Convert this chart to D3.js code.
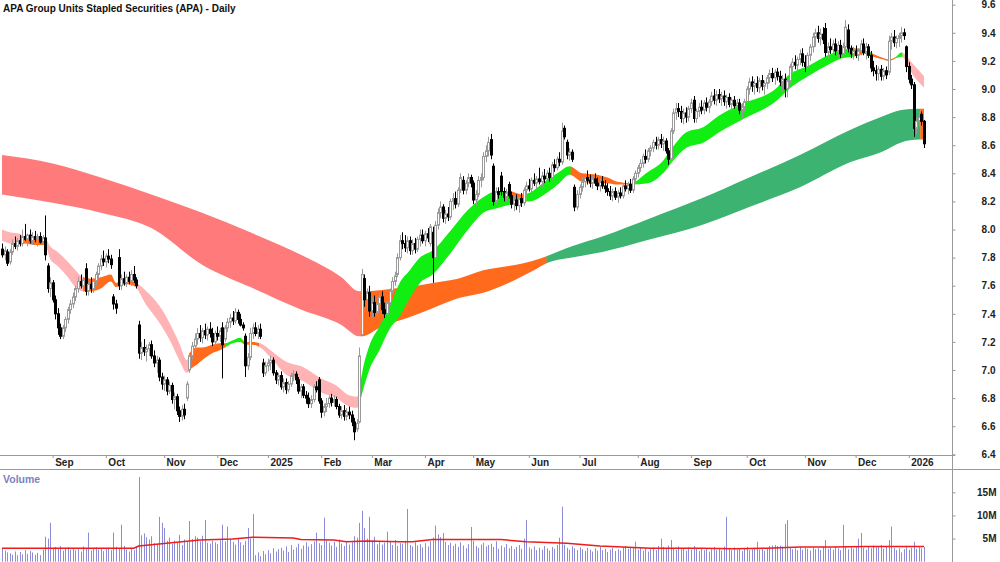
<!DOCTYPE html>
<html><head><meta charset="utf-8">
<script src="https://cdn.jsdelivr.net/npm/d3@7"></script>
<style>body{margin:0;background:#fff}svg{display:block}</style>
</head><body><svg id="c" width="1000" height="562"></svg>
<script>
const TITLE = "APA Group Units Stapled Securities (APA) - Daily";
const START = "2024-08-05";
const holidays = ["2024-12-25","2024-12-26","2025-01-01","2025-01-27","2025-04-18","2025-04-21","2025-04-25","2025-06-09","2025-12-25","2025-12-26","2026-01-01"];
const monthNames = ["Jan","Feb","Mar","Apr","May","Jun","Jul","Aug","Sep","Oct","Nov","Dec"];

const opens = [7.86,7.82,7.84,7.77,7.84,7.90,7.88,7.92,7.90,7.95,
7.93,7.96,7.92,7.95,7.93,7.95,7.91,7.94,7.74,7.58,
7.62,7.50,7.40,7.30,7.24,7.30,7.36,7.43,7.47,7.52,
7.58,7.63,7.60,7.72,7.56,7.61,7.58,7.63,7.68,7.74,
7.79,7.77,7.81,7.79,7.52,7.47,7.80,7.60,7.65,7.62,
7.66,7.63,7.68,7.64,7.32,7.12,7.16,7.13,7.15,7.18,
7.10,7.05,7.07,6.95,6.90,6.93,6.85,6.89,6.79,6.81,
6.71,6.67,6.72,6.80,7.00,7.10,7.17,7.22,7.26,7.23,
7.28,7.25,7.29,7.26,7.20,7.26,7.24,7.30,7.22,7.30,
7.34,7.37,7.35,7.41,7.36,7.32,7.24,7.03,7.09,7.26,
7.30,7.26,7.29,7.05,6.98,7.03,7.05,7.07,6.98,6.93,
6.96,6.88,6.91,6.86,6.90,6.96,6.97,6.93,6.85,6.88,
6.82,6.80,6.76,6.79,6.88,6.93,6.78,6.70,6.74,6.76,
6.80,6.77,6.79,6.74,6.68,6.71,6.67,6.70,6.68,6.63,
6.58,6.63,7.25,7.65,7.50,7.55,7.42,7.48,7.41,7.47,
7.52,7.43,7.40,7.48,7.56,7.63,7.68,7.80,7.92,7.90,
7.87,7.92,7.85,7.90,7.86,7.93,7.96,7.92,7.97,7.90,
7.98,7.80,8.03,8.12,8.16,8.08,8.11,8.09,8.20,8.22,
8.18,8.28,8.35,8.28,8.33,8.37,8.33,8.21,8.25,8.35,
8.37,8.52,8.56,8.64,8.45,8.20,8.27,8.38,8.27,8.23,
8.32,8.24,8.18,8.21,8.17,8.22,8.19,8.28,8.31,8.29,
8.35,8.33,8.36,8.34,8.38,8.36,8.40,8.37,8.46,8.44,
8.50,8.48,8.72,8.62,8.53,8.55,8.30,8.16,8.25,8.30,
8.34,8.37,8.35,8.33,8.36,8.33,8.31,8.34,8.31,8.29,
8.27,8.24,8.27,8.23,8.26,8.24,8.31,8.29,8.32,8.28,
8.36,8.40,8.44,8.47,8.52,8.50,8.56,8.58,8.62,8.60,
8.64,8.61,8.63,8.56,8.50,8.70,8.83,8.86,8.84,8.79,
8.83,8.80,8.86,8.92,8.79,8.84,8.87,8.85,8.90,8.87,
8.91,8.95,8.92,8.96,8.93,8.95,8.91,8.94,8.89,8.92,
8.88,8.90,8.85,8.87,8.91,9.00,9.05,9.02,9.04,9.01,
9.06,9.02,9.04,9.08,9.11,9.08,9.12,9.09,9.05,9.07,
9.00,9.06,9.16,9.19,9.17,9.21,9.25,9.19,9.16,9.24,
9.30,9.37,9.40,9.36,9.39,9.43,9.26,9.30,9.28,9.32,
9.27,9.31,9.25,9.30,9.42,9.29,9.25,9.27,9.24,9.27,
9.32,9.26,9.30,9.24,9.15,9.13,9.11,9.14,9.09,9.13,
9.12,9.34,9.37,9.33,9.36,9.38,9.40,9.30,9.16,9.07,
9.03,8.72,8.77,8.82,8.77];
const highs = [7.90,7.88,7.86,7.86,7.93,7.95,7.94,7.96,8.00,8.04,
7.97,8.00,7.98,7.99,7.97,7.98,7.96,8.10,7.76,7.66,
7.64,7.53,7.44,7.33,7.32,7.38,7.45,7.50,7.55,7.60,
7.66,7.68,7.66,7.76,7.63,7.66,7.65,7.70,7.76,7.82,
7.85,7.83,7.86,7.82,7.54,7.50,7.86,7.68,7.70,7.68,
7.70,7.71,7.74,7.66,7.35,7.20,7.22,7.18,7.20,7.21,
7.14,7.10,7.09,6.98,6.96,6.95,6.92,6.91,6.84,6.83,
6.74,6.75,6.76,6.92,7.12,7.20,7.26,7.30,7.32,7.30,
7.33,7.31,7.34,7.30,7.28,7.31,7.30,7.34,7.32,7.37,
7.40,7.42,7.44,7.43,7.40,7.34,7.26,7.12,7.30,7.33,
7.34,7.32,7.33,7.08,7.06,7.08,7.10,7.09,7.00,6.98,
6.99,6.94,6.94,6.92,6.98,7.00,6.99,6.95,6.90,6.90,
6.85,6.84,6.82,6.90,6.92,6.95,6.80,6.76,6.80,6.82,
6.83,6.82,6.81,6.76,6.74,6.75,6.73,6.74,6.71,6.66,
6.65,7.16,7.72,7.68,7.58,7.60,7.52,7.53,7.50,7.55,
7.56,7.48,7.50,7.58,7.66,7.70,7.83,7.96,7.98,7.96,
7.95,7.95,7.93,7.94,7.95,8.00,8.00,7.99,8.01,8.04,
8.02,8.06,8.15,8.20,8.18,8.14,8.16,8.22,8.26,8.27,
8.30,8.40,8.38,8.35,8.40,8.39,8.35,8.28,8.38,8.40,
8.55,8.60,8.66,8.68,8.47,8.30,8.30,8.41,8.30,8.29,
8.34,8.27,8.24,8.25,8.24,8.26,8.30,8.34,8.36,8.37,
8.40,8.38,8.44,8.41,8.43,8.42,8.44,8.48,8.50,8.52,
8.55,8.76,8.74,8.64,8.58,8.57,8.32,8.28,8.32,8.37,
8.40,8.42,8.39,8.38,8.40,8.37,8.36,8.38,8.35,8.33,
8.31,8.29,8.30,8.28,8.30,8.33,8.35,8.34,8.36,8.38,
8.42,8.46,8.50,8.54,8.57,8.58,8.60,8.64,8.66,8.66,
8.68,8.66,8.65,8.58,8.72,8.86,8.90,8.90,8.88,8.86,
8.87,8.88,8.93,8.95,8.86,8.90,8.92,8.92,8.94,8.93,
8.98,9.00,8.99,9.00,8.98,8.99,8.96,8.97,8.94,8.95,
8.93,8.93,8.90,8.93,9.02,9.08,9.09,9.07,9.09,9.08,
9.10,9.06,9.10,9.14,9.15,9.14,9.15,9.13,9.10,9.11,
9.08,9.18,9.22,9.24,9.23,9.28,9.29,9.24,9.26,9.32,
9.40,9.43,9.45,9.43,9.44,9.47,9.33,9.36,9.35,9.36,
9.34,9.35,9.33,9.49,9.46,9.31,9.30,9.31,9.29,9.35,
9.36,9.33,9.32,9.27,9.20,9.17,9.16,9.17,9.15,9.16,
9.38,9.40,9.42,9.38,9.40,9.44,9.43,9.31,9.19,9.10,
9.05,8.80,8.84,8.84,8.78];
const lows = [7.80,7.78,7.74,7.75,7.82,7.86,7.85,7.88,7.88,7.92,
7.88,7.90,7.89,7.91,7.88,7.90,7.89,7.78,7.55,7.52,
7.48,7.36,7.25,7.22,7.22,7.27,7.33,7.40,7.44,7.49,
7.55,7.58,7.56,7.53,7.53,7.55,7.55,7.60,7.65,7.71,
7.74,7.73,7.76,7.72,7.43,7.40,7.57,7.57,7.60,7.59,
7.61,7.60,7.62,7.58,7.08,7.07,7.10,7.06,7.10,7.08,
7.02,6.98,6.92,6.86,6.85,6.82,6.83,6.76,6.72,6.68,
6.63,6.64,6.65,6.78,6.98,7.07,7.14,7.18,7.20,7.19,
7.22,7.21,7.23,7.17,7.17,7.21,7.20,6.94,7.20,7.27,
7.30,7.32,7.33,7.33,7.31,7.28,6.95,7.00,7.07,7.22,
7.24,7.22,7.22,6.95,6.96,6.99,7.00,6.96,6.90,6.89,
6.86,6.84,6.83,6.84,6.88,6.92,6.90,6.83,6.80,6.80,
6.76,6.73,6.73,6.77,6.84,6.76,6.66,6.67,6.70,6.73,
6.74,6.74,6.72,6.66,6.65,6.64,6.64,6.65,6.60,6.50,
6.56,6.62,7.24,7.45,7.42,7.38,7.37,7.38,7.38,7.44,
7.40,7.37,7.38,7.46,7.54,7.60,7.66,7.78,7.86,7.84,
7.83,7.82,7.82,7.83,7.84,7.88,7.90,7.88,7.91,7.88,
7.62,7.78,8.00,8.08,8.05,8.04,8.06,8.07,8.14,8.15,
8.16,8.26,8.25,8.25,8.30,8.30,8.18,8.17,8.23,8.30,
8.35,8.48,8.52,8.50,8.17,8.18,8.22,8.24,8.20,8.20,
8.22,8.15,8.13,8.14,8.12,8.16,8.17,8.24,8.27,8.26,
8.31,8.29,8.32,8.30,8.33,8.32,8.34,8.35,8.41,8.42,
8.45,8.46,8.64,8.50,8.49,8.48,8.13,8.14,8.22,8.27,
8.30,8.32,8.30,8.29,8.31,8.28,8.27,8.29,8.26,8.24,
8.21,8.20,8.21,8.19,8.22,8.22,8.27,8.25,8.26,8.26,
8.33,8.37,8.41,8.44,8.47,8.48,8.52,8.55,8.57,8.57,
8.58,8.56,8.54,8.46,8.48,8.68,8.78,8.80,8.76,8.75,
8.76,8.77,8.83,8.76,8.76,8.80,8.82,8.82,8.84,8.83,
8.88,8.89,8.88,8.90,8.88,8.88,8.86,8.87,8.84,8.86,
8.84,8.82,8.79,8.84,8.89,8.96,8.98,8.96,8.98,8.97,
8.99,8.96,9.00,9.04,9.05,9.03,9.06,9.02,8.98,8.94,
8.94,9.04,9.12,9.14,9.12,9.17,9.16,9.12,9.14,9.20,
9.26,9.30,9.33,9.31,9.32,9.23,9.22,9.25,9.24,9.24,
9.23,9.22,9.22,9.28,9.26,9.22,9.21,9.22,9.20,9.24,
9.24,9.21,9.22,9.12,9.09,9.06,9.06,9.06,9.06,9.07,
9.10,9.28,9.30,9.29,9.30,9.33,9.35,9.12,9.04,9.00,
8.66,8.68,8.73,8.74,8.58];
const closes = [7.82,7.85,7.76,7.84,7.90,7.88,7.92,7.90,7.95,7.93,
7.96,7.92,7.95,7.93,7.95,7.91,7.94,7.82,7.58,7.62,
7.50,7.40,7.30,7.24,7.30,7.36,7.43,7.47,7.52,7.58,
7.63,7.60,7.64,7.56,7.61,7.58,7.63,7.68,7.74,7.79,
7.77,7.81,7.79,7.75,7.47,7.44,7.60,7.65,7.62,7.66,
7.63,7.68,7.64,7.60,7.12,7.16,7.13,7.15,7.18,7.10,
7.05,7.07,6.95,6.90,6.93,6.85,6.89,6.79,6.81,6.71,
6.67,6.72,6.68,6.90,7.10,7.17,7.22,7.26,7.23,7.28,
7.25,7.29,7.26,7.20,7.26,7.24,7.28,7.18,7.30,7.34,
7.37,7.35,7.41,7.36,7.32,7.30,7.03,7.09,7.26,7.30,
7.26,7.29,7.24,6.98,7.03,7.05,7.07,6.98,6.93,6.96,
6.88,6.91,6.86,6.90,6.96,6.97,6.93,6.85,6.88,6.82,
6.80,6.76,6.79,6.88,6.86,6.78,6.70,6.74,6.76,6.80,
6.77,6.79,6.74,6.68,6.71,6.67,6.70,6.68,6.63,6.56,
6.62,7.10,7.68,7.50,7.55,7.42,7.48,7.41,7.47,7.52,
7.43,7.40,7.48,7.56,7.63,7.67,7.80,7.92,7.90,7.87,
7.92,7.85,7.90,7.86,7.93,7.96,7.92,7.97,7.94,8.02,
7.80,8.03,8.12,8.16,8.08,8.11,8.09,8.20,8.22,8.18,
8.28,8.37,8.28,8.33,8.37,8.33,8.21,8.25,8.35,8.37,
8.52,8.56,8.62,8.53,8.20,8.27,8.25,8.27,8.23,8.26,
8.24,8.18,8.21,8.17,8.22,8.19,8.28,8.31,8.29,8.35,
8.33,8.36,8.34,8.38,8.36,8.40,8.37,8.46,8.44,8.50,
8.48,8.70,8.66,8.53,8.55,8.50,8.16,8.25,8.30,8.34,
8.37,8.35,8.33,8.36,8.33,8.31,8.34,8.31,8.29,8.27,
8.24,8.27,8.23,8.26,8.24,8.31,8.29,8.32,8.28,8.36,
8.40,8.44,8.47,8.52,8.50,8.56,8.58,8.62,8.60,8.64,
8.61,8.63,8.56,8.50,8.70,8.83,8.86,8.84,8.79,8.83,
8.80,8.86,8.90,8.79,8.84,8.87,8.85,8.90,8.87,8.91,
8.95,8.92,8.96,8.93,8.95,8.91,8.94,8.89,8.92,8.88,
8.90,8.85,8.87,8.91,9.00,9.05,9.02,9.04,9.01,9.06,
9.02,9.04,9.08,9.11,9.08,9.12,9.09,9.05,9.07,9.00,
9.06,9.16,9.19,9.17,9.21,9.25,9.19,9.16,9.24,9.30,
9.37,9.40,9.36,9.39,9.35,9.26,9.30,9.28,9.32,9.27,
9.31,9.25,9.30,9.44,9.29,9.25,9.27,9.24,9.27,9.32,
9.26,9.30,9.24,9.15,9.13,9.11,9.14,9.09,9.13,9.10,
9.34,9.37,9.33,9.36,9.38,9.40,9.38,9.16,9.07,9.03,
8.72,8.77,8.80,8.77,8.61];

const volumes = [3.0,2.4,2.0,1.8,1.5,2.2,1.4,2.1,1.6,2.5,
1.7,2.3,2.0,1.5,1.9,1.4,2.6,5.4,5.0,8.4,
3.0,3.2,2.9,3.4,2.4,2.8,3.1,2.6,3.0,2.5,
2.7,2.2,3.3,2.9,6.3,2.4,2.8,3.1,2.6,2.9,
2.3,2.7,3.0,2.5,6.3,3.2,2.8,8.0,3.4,2.6,
2.2,3.0,2.5,3.3,18.3,5.7,6.1,5.3,4.8,5.5,
4.0,3.9,9.7,8.4,7.3,4.5,5.2,3.8,4.6,4.1,
5.8,3.6,4.8,4.3,8.8,4.9,5.5,5.2,4.4,5.6,
9.0,4.1,3.9,4.5,4.2,3.8,4.6,8.0,4.4,7.6,
5.1,4.3,3.7,4.9,4.2,3.6,4.5,7.3,5.0,10.3,
1.4,2.0,1.2,2.3,1.6,2.5,1.8,2.9,2.2,2.7,
3.0,2.4,3.3,2.1,3.6,2.6,3.1,3.9,2.8,3.5,
4.2,3.3,3.8,4.4,6.3,4.0,3.6,9.5,4.6,4.1,
3.5,4.3,3.2,4.8,3.9,3.4,4.5,3.7,4.2,5.5,
5.2,8.4,11.0,7.3,5.0,9.7,4.6,5.4,3.8,4.4,
3.7,4.1,6.5,4.3,3.6,4.7,3.4,4.0,3.9,4.5,
11.4,3.6,3.3,4.2,3.5,3.8,3.1,4.0,3.3,4.4,
5.2,7.8,5.9,5.3,6.2,4.3,3.6,4.1,3.4,3.9,
3.2,4.2,3.5,2.9,3.8,7.5,4.5,3.4,3.0,3.7,
4.1,3.3,3.6,3.9,3.2,4.4,2.8,3.5,3.1,3.8,
2.9,3.4,2.7,3.2,3.6,2.8,5.0,9.0,3.1,2.7,
3.3,2.5,3.0,2.6,3.4,2.9,2.4,3.2,2.8,3.6,
5.2,11.9,3.7,3.0,2.6,3.3,2.9,2.5,3.1,2.7,
2.3,3.0,2.6,2.2,2.9,2.4,3.2,2.5,2.8,2.1,
2.6,3.0,2.3,2.7,2.4,3.1,3.4,2.8,3.2,3.0,
4.3,2.6,3.0,2.4,2.9,2.2,2.7,3.1,2.5,3.4,
5.0,3.2,2.8,3.5,4.7,3.0,2.6,3.3,2.7,2.9,
2.4,3.1,2.6,3.4,2.8,2.3,3.0,2.5,2.9,2.2,
2.7,3.2,2.5,2.9,2.4,3.3,9.7,2.8,2.5,3.1,
2.6,2.9,2.3,2.8,3.2,2.5,2.7,3.0,4.3,2.6,
3.0,2.4,2.8,3.4,3.5,3.6,3.4,3.5,3.3,8.2,
9.0,3.1,2.7,2.9,2.5,3.2,2.6,3.0,2.8,2.4,
3.1,2.7,2.9,2.5,3.3,4.7,2.8,3.0,2.6,3.2,
2.9,2.5,8.0,3.4,2.7,3.1,2.8,3.3,5.0,6.2,
3.0,2.6,3.4,2.9,3.5,3.1,3.3,3.6,2.8,3.2,
4.7,7.6,3.0,2.5,2.9,2.0,2.7,3.4,2.6,3.0,
4.3,2.8,3.1,2.9,3.2];

const volMaIdx = [0,52,54,65,78,91,99,115,118,131,136,144,157,162,170,197,207,223,236,256,276,289,302,315,328,341,364];
const volMaVal = [2.9,2.9,3.4,4.0,4.7,4.9,5.3,5.1,4.8,4.7,4.3,4.5,4.3,4.3,4.8,4.8,4.3,4.0,3.4,2.9,2.9,2.8,2.9,3.2,3.2,3.3,3.3];

// short-term GMMA ribbon (upper / lower edge)
const shortIdx = [0,3,7,9,13,17,19,22,26,29,32,35,39,43,45,49,52,57,62,66,70,73,74,77,79,83,86,88,91,94,96,99,102,106,112,119,126,132,137,140,141,142,145,149,153,157,161,165,170,177,184,190,195,201,205,208,215,220,224,229,235,239,243,248,255,261,265,270,277,283,293,306,310,319,326,332,336,341,344,348,350,353,355,360,364];
const shortHi = [8.00,7.98,7.97,7.95,7.95,7.94,7.88,7.84,7.77,7.71,7.66,7.65,7.66,7.68,7.62,7.64,7.63,7.56,7.46,7.34,7.19,7.07,7.12,7.16,7.16,7.18,7.19,7.19,7.21,7.23,7.20,7.20,7.19,7.14,7.06,7.02,6.94,6.89,6.82,6.81,6.84,6.96,7.17,7.31,7.45,7.62,7.71,7.80,7.85,7.99,8.14,8.23,8.27,8.27,8.25,8.26,8.35,8.41,8.45,8.40,8.39,8.37,8.34,8.33,8.41,8.49,8.59,8.69,8.73,8.81,8.90,9.01,9.09,9.17,9.24,9.28,9.29,9.28,9.25,9.22,9.21,9.23,9.26,9.17,9.09];
const shortLo = [7.92,7.90,7.89,7.90,7.89,7.89,7.79,7.74,7.66,7.59,7.56,7.56,7.58,7.63,7.59,7.61,7.60,7.46,7.34,7.22,7.07,6.98,7.00,7.04,7.07,7.12,7.14,7.16,7.19,7.20,7.18,7.18,7.16,7.09,6.97,6.92,6.84,6.80,6.74,6.73,6.75,6.82,7.00,7.14,7.29,7.38,7.51,7.62,7.68,7.83,8.00,8.12,8.15,8.18,8.20,8.20,8.26,8.33,8.39,8.34,8.33,8.33,8.32,8.32,8.33,8.40,8.49,8.58,8.62,8.69,8.79,8.92,8.99,9.10,9.17,9.22,9.23,9.25,9.23,9.21,9.20,9.22,9.23,9.09,9.01];
const shortRuns = [[0,8,"bear"],[8,17.5,"mixed"],[17.5,32,"bear"],[32,52.5,"mixed"],[52.5,73.5,"bear"],[73.5,88,"mixed"],[88,95,"bull"],[95,101.5,"mixed"],[101.5,140.5,"bear"],[140.5,142,"mixed"],[142,201,"bull"],[201,207,"mixed"],[207,224.5,"bull"],[224.5,248.5,"mixed"],[248.5,336.5,"bull"],[336.5,340,"mixed"],[340,343,"bull"],[343,352.5,"mixed"],[352.5,355.5,"bull"],[355.5,365,"bear"]];

// long-term GMMA ribbon
const longIdx = [0,20,39,59,79,98,118,134,141,142,150,160,170,180,190,200,210,215,225,237,256,276,295,315,335,347,355,362,364];
const longHi = [8.53,8.47,8.37,8.25,8.12,7.98,7.82,7.66,7.56,7.56,7.57,7.59,7.62,7.65,7.71,7.74,7.78,7.81,7.88,7.95,8.08,8.22,8.37,8.53,8.71,8.80,8.85,8.86,8.86];
const longLo = [8.25,8.19,8.12,8.01,7.75,7.59,7.43,7.32,7.24,7.24,7.31,7.37,7.44,7.51,7.55,7.62,7.71,7.76,7.80,7.84,7.93,8.03,8.16,8.30,8.48,8.55,8.62,8.64,8.64];
const longRuns = [[0,141.5,"bear"],[141.5,215,"mixed"],[215,362.5,"bull"],[362.5,365,"mixed"]];

const priceTicks = [6.4,6.6,6.8,7.0,7.2,7.4,7.6,7.8,8.0,8.2,8.4,8.6,8.8,9.0,9.2,9.4,9.6];
const volTicks = [5,10,15];

const shortColors = {bear:"#ffb3b5", mixed:"#ff6a1c", bull:"#11ee11"};
const longColors = {bear:"#ff7a7a", mixed:"#ff6a1c", bull:"#3cb371"};
const FONT = "'Liberation Sans', Arial, sans-serif";

// trading calendar (categories)
const days = [];
{
  const d = new Date(START + "T00:00:00Z");
  while (days.length < closes.length) {
    const s = d.toISOString().slice(0,10), w = d.getUTCDay();
    if (w !== 0 && w !== 6 && !holidays.includes(s)) days.push(new Date(d));
    d.setUTCDate(d.getUTCDate()+1);
  }
}
const monthIdx = [];
days.forEach((d,i)=>{ if(i>0 && d.getUTCMonth()!==days[i-1].getUTCMonth()) monthIdx.push(i); });
const monthLabel = i => days[i].getUTCMonth()===0 ? String(days[i].getUTCFullYear()) : monthNames[days[i].getUTCMonth()];

const svg = d3.select("#c");
const N = closes.length;
const x = d3.scaleLinear().domain([0, N-1]).range([2, 924]);
const y = d3.scaleLinear().domain([6.4, 9.6]).range([454.3, 4.7]);
const yv = d3.scaleLinear().domain([0, 15]).range([561.7, 492.3]);
const px = i => Math.round(x(i));

// ribbons
const defs = svg.append("defs");
function ribbon(name, idx, hi, lo, runs, colors){
  const pts = idx.map((k,j)=>({k, h:hi[j], l:lo[j]}));
  const area = d3.area().x(d=>x(d.k)).y0(d=>y(d.l)).y1(d=>y(d.h)).curve(d3.curveMonotoneX);
  const g = svg.append("g");
  runs.forEach((r,j)=>{
    const id = name+"c"+j;
    defs.append("clipPath").attr("id",id).append("rect")
      .attr("x", x(r[0])).attr("width", x(r[1])-x(r[0])+0.3).attr("y",0).attr("height",455);
    g.append("path").datum(pts).attr("d",area).attr("fill",colors[r[2]]).attr("clip-path",`url(#${id})`);
  });
}
ribbon("long", longIdx, longHi, longLo, longRuns, longColors);
ribbon("short", shortIdx, shortHi, shortLo, shortRuns, shortColors);

// candles
const idx = d3.range(N);
const up = i => closes[i] >= opens[i];
const cg = svg.append("g");
cg.selectAll("line").data(idx).join("line")
  .attr("x1", i=>px(i)+0.5).attr("x2", i=>px(i)+0.5)
  .attr("y1", i=>y(highs[i])).attr("y2", i=>y(lows[i]))
  .attr("stroke", i=>up(i)?"#9a9a9a":"#000").attr("stroke-width",1);
cg.selectAll("rect").data(idx).join("rect")
  .attr("x", i=>px(i)-0.5).attr("width",2)
  .attr("y", i=>y(Math.max(opens[i],closes[i])))
  .attr("height", i=>Math.max(1, y(Math.min(opens[i],closes[i]))-y(Math.max(opens[i],closes[i]))))
  .attr("fill", i=>up(i)?"#fff":"#000")
  .attr("stroke", i=>up(i)?"#9a9a9a":"#000").attr("stroke-width",1);

// frame lines
svg.append("line").attr("x1",0).attr("x2",955).attr("y1",455.5).attr("y2",455.5).attr("stroke","#999");
svg.append("line").attr("x1",0).attr("x2",1000).attr("y1",469.5).attr("y2",469.5).attr("stroke","#999");
svg.append("line").attr("x1",952.5).attr("x2",952.5).attr("y1",0).attr("y2",562).attr("stroke","#999");

// price axis
const ya = svg.append("g").attr("transform","translate(952.5,0)")
  .call(d3.axisRight(y).tickValues(priceTicks).tickSize(3).tickFormat(d3.format(".1f")));
ya.select(".domain").remove();
ya.attr("font-family",FONT).attr("font-size",10).attr("font-weight","bold");
ya.selectAll("line").attr("stroke","#999");
ya.selectAll("text").attr("x",43).attr("text-anchor","end").attr("fill","#222");

// volume axis
const va = svg.append("g").attr("transform","translate(952.5,0)")
  .call(d3.axisRight(yv).tickValues(volTicks).tickSize(3).tickFormat(d=>d+"M"));
va.select(".domain").remove();
va.attr("font-family",FONT).attr("font-size",10).attr("font-weight","bold");
va.selectAll("line").attr("stroke","#999");
va.selectAll("text").attr("x",44).attr("text-anchor","end").attr("fill","#222");

// date axis
const xa = svg.append("g").attr("transform","translate(0,455)")
  .call(d3.axisBottom(x).tickValues(monthIdx).tickSize(3).tickFormat(monthLabel));
xa.select(".domain").remove();
xa.attr("font-family",FONT).attr("font-size",10).attr("font-weight","bold");
xa.selectAll("line").attr("stroke","#999");
xa.selectAll("text").attr("text-anchor","start").attr("x",2).attr("y",11).attr("dy",0).attr("fill","#222");

// volume
const vg = svg.append("g");
vg.selectAll("line").data(idx).join("line")
  .attr("x1", i=>px(i)+0.5).attr("x2", i=>px(i)+0.5)
  .attr("y1", yv(0)).attr("y2", i=>yv(volumes[i]))
  .attr("stroke","#8c8cd8").attr("stroke-width",1);
svg.append("path").datum(volMaIdx.map((k,j)=>[k,volMaVal[j]]))
  .attr("d", d3.line().x(d=>x(d[0])).y(d=>yv(d[1])))
  .attr("fill","none").attr("stroke","#ee1c1c").attr("stroke-width",1.5);

svg.append("text").attr("x",3).attr("y",483).text("Volume")
  .attr("font-family",FONT).attr("font-size",10.5).attr("font-weight","bold").attr("fill","#8080c0");

// title
svg.append("text").attr("x",3).attr("y",12).text(TITLE)
  .attr("font-family",FONT).attr("font-size",10).attr("font-weight","bold").attr("fill","#111");
</script></body></html>
